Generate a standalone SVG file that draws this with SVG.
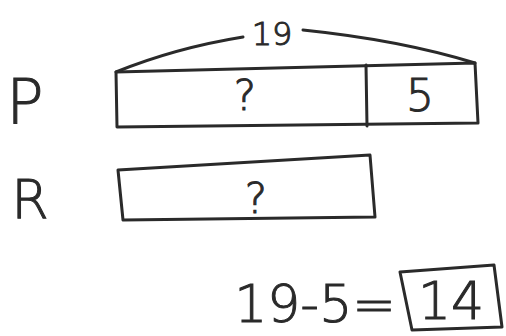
<svg xmlns="http://www.w3.org/2000/svg" width="506" height="336" viewBox="0 0 506 336">
<style>
.ln{fill:none;stroke:#2a2a2a;stroke-width:3;stroke-linecap:round;stroke-linejoin:round}
.t{font-family:"DejaVu Sans","Liberation Sans",sans-serif;fill:#2a2a2a;stroke:#2a2a2a;stroke-width:1;text-anchor:middle;font-weight:300}
</style>
<rect width="506" height="336" fill="#fff"/>
<g id="label-P"><text class="t" x="25" y="124" font-size="62">P</text></g>
<g id="label-R"><text class="t" x="30" y="218" font-size="54">R</text></g>
<g id="total-19">
<text class="t" x="272" y="45" font-size="32">19</text>
</g>
<g id="connectors">
<path class="ln" d="M116 72 Q175 48 243 37"/>
<path class="ln" d="M303 30 Q400 40 475 63"/>
</g>
<g id="bar-P">
<path class="ln" d="M116 72 L475 63 L478 123 L117 127 Z"/>
<path class="ln" d="M366 65 L367 126"/>
<text class="t" x="245" y="110" font-size="42">?</text>
<text class="t" x="420" y="111" font-size="44">5</text>
</g>
<g id="bar-R">
<path class="ln" d="M118 170 L370 155 L375 217 L123 220 Z"/>
<text class="t" x="256" y="213" font-size="42">?</text>
</g>
<g id="equation">
<text class="t" x="315" y="322" font-size="52">19-5=</text>
<path class="ln" d="M400 272 L494 265 L502 327 L412 330 Z"/>
<text class="t" x="451" y="319" font-size="52">14</text>
</g>
</svg>
